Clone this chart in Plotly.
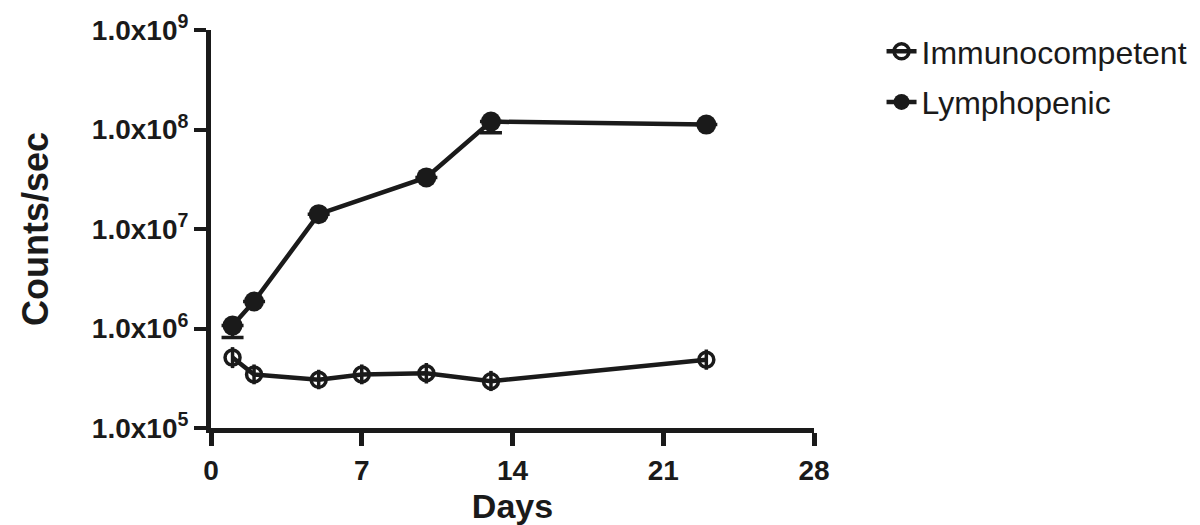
import plotly.graph_objects as go

# ---- data ----
days_imm = [1, 2, 5, 7, 10, 13, 23]
imm_counts = [5.1e5, 3.45e5, 3.05e5, 3.45e5, 3.55e5, 2.95e5, 4.85e5]
imm_err_plus = [1.4e5, 0.9e5, 0.8e5, 0.9e5, 0.95e5, 0.8e5, 1.3e5]
imm_err_minus = [1.1e5, 0.7e5, 0.6e5, 0.7e5, 0.75e5, 0.6e5, 1.0e5]

days_lym = [1, 2, 5, 10, 13, 23]
lym_counts = [1.07e6, 1.87e6, 1.41e7, 3.3e7, 1.2e8, 1.12e8]
lym_err_plus = [0, 0, 0, 0, 0, 0]
lym_err_minus = [2.6e5, 0, 0, 0, 2.7e7, 0]

x_ticks = [0, 7, 14, 21, 28]
y_tickvals = [1e5, 1e6, 1e7, 1e8, 1e9]
y_ticktext = ["1.0x10<sup>5</sup>", "1.0x10<sup>6</sup>", "1.0x10<sup>7</sup>",
              "1.0x10<sup>8</sup>", "1.0x10<sup>9</sup>"]

INK = "#1a1a1a"
BOLD = "Liberation Sans, Arial, sans-serif"

fig = go.Figure()

fig.add_trace(go.Scatter(
    x=days_imm, y=imm_counts, name="Immunocompetent", mode="lines+markers",
    line=dict(color=INK, width=4.5),
    marker=dict(symbol="circle-open", size=15, color=INK, line=dict(width=3.5, color=INK)),
    error_y=dict(type="data", symmetric=False, array=imm_err_plus, arrayminus=imm_err_minus,
                 color=INK, thickness=3.5, width=0),
    legendgroup="a",
))

fig.add_trace(go.Scatter(
    x=days_lym, y=lym_counts, name="Lymphopenic", mode="lines+markers",
    line=dict(color=INK, width=4.5),
    marker=dict(symbol="circle", size=20, color=INK),
    error_y=dict(type="data", symmetric=False, array=lym_err_plus, arrayminus=lym_err_minus,
                 color=INK, thickness=3.5, width=11),
    legendgroup="b",
))

fig.update_layout(
    width=1200, height=525,
    margin=dict(l=211, r=386, t=30, b=97, autoexpand=False),
    paper_bgcolor="white", plot_bgcolor="white",
    font=dict(family=BOLD, color=INK),
    showlegend=True,
    legend=dict(
        x=1.112, xanchor="left", y=1.015, yanchor="top",
        font=dict(family="Liberation Sans, Arial, sans-serif", size=32, color=INK),
        bgcolor="rgba(0,0,0,0)", tracegroupgap=6, traceorder="grouped",
    ),
)

fig.update_xaxes(
    range=[0, 28], tickvals=x_ticks, ticktext=[str(t) for t in x_ticks],
    showline=True, linecolor=INK, linewidth=5,
    ticks="outside", ticklen=13, tickwidth=5, tickcolor=INK,
    showgrid=False, zeroline=False, automargin=False,
    tickfont=dict(family=BOLD, size=28, color=INK, weight="bold"),
    title=dict(text="<b>Days</b>", font=dict(family=BOLD, size=34, color=INK), standoff=12),
)

fig.update_yaxes(
    type="log", range=[5, 9], tickvals=y_tickvals, ticktext=y_ticktext,
    showline=True, linecolor=INK, linewidth=5,
    ticks="outside", ticklen=12, tickwidth=4, tickcolor=INK,
    showgrid=False, zeroline=False, automargin=False,
    tickfont=dict(family=BOLD, size=28, color=INK, weight="bold"),
    title=dict(text="<b>Counts/sec</b>", font=dict(family=BOLD, size=36, color=INK), standoff=34),
)

fig.write_html("out.html", config={"displayModeBar": False},
               post_script="document.body.style.margin='0';")
